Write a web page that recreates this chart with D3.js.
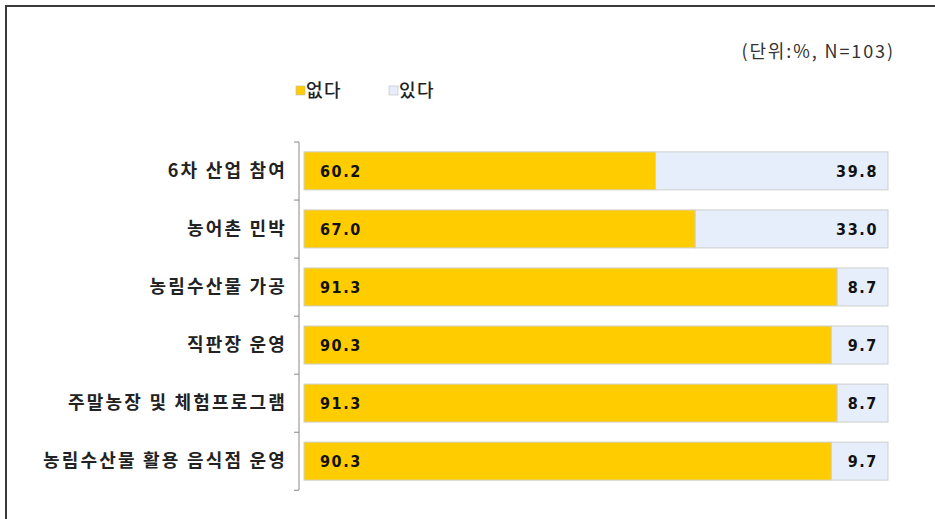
<!DOCTYPE html>
<html>
<head>
<meta charset="utf-8">
<script src="https://cdn.jsdelivr.net/npm/d3@7"></script>
<style>
  body { margin: 0; background: #fff; }
  svg { display: block; }
</style>
</head>
<body>
<div id="chart"></div>
<script>
var svgWidth = 935;
var svgHeight = 519;

// chart data
var categories = ["6차 산업 참여", "농어촌 민박", "농림수산물 가공", "직판장 운영", "주말농장 및 체험프로그램", "농림수산물 활용 음식점 운영"];
var seriesNames = ["없다", "있다"];
var noValues = [60.2, 67.0, 91.3, 90.3, 91.3, 90.3];
var yesValues = [39.8, 33.0, 8.7, 9.7, 8.7, 9.7];
var colors = ["#FFCC00", "#E6EEFB"];

var margin = { top: 142, left: 304, right: 47, bottom: 29 };
var width = svgWidth - margin.left - margin.right;
var height = svgHeight - margin.top - margin.bottom;

var krFont = "'Noto Sans CJK KR', sans-serif";

var svg = d3.select("#chart")
  .append("svg")
  .attr("width", svgWidth)
  .attr("height", svgHeight);

// outer frame (top and left edges)
svg.append("path")
  .attr("d", "M6,519 V6 H935")
  .attr("fill", "none")
  .attr("stroke", "#3a3a3a")
  .attr("stroke-width", 2);

// unit note
svg.append("text")
  .attr("x", 895)
  .attr("y", 58)
  .attr("text-anchor", "end")
  .style("font-family", krFont)
  .style("font-size", "18px")
  .style("letter-spacing", "1.9px")
  .attr("fill", "#333")
  .text("(단위:%, N=103)");

// legend
var legendX = [296, 389];
seriesNames.forEach(function (name, i) {
  svg.append("rect")
    .attr("x", legendX[i])
    .attr("y", 86)
    .attr("width", 9)
    .attr("height", 9)
    .attr("fill", colors[i])
    .attr("stroke", "#bbb")
    .attr("stroke-width", 0.6);
  svg.append("text")
    .attr("x", legendX[i] + 10)
    .attr("y", 97)
    .style("font-family", krFont)
    .style("font-size", "18px")
    .style("font-weight", "500")
    .style("letter-spacing", "1.5px")
    .attr("fill", "#222")
    .text(name);
});

var chartGroup = svg.append("g")
  .attr("transform", `translate(${margin.left}, ${margin.top})`);

var xScale = d3.scaleLinear()
  .domain([0, 100])
  .range([0, width]);

var yScale = d3.scaleBand()
  .domain(categories)
  .range([0, height])
  .paddingInner(0.345)
  .paddingOuter(0.17);

// stacked data
var rows = categories.map(function (c, i) {
  return { cat: c, no: noValues[i], yes: yesValues[i] };
});
var stack = d3.stack().keys(["no", "yes"])(rows);

stack.forEach(function (layer, li) {
  chartGroup.append("g")
    .selectAll("rect")
    .data(layer)
    .enter()
    .append("rect")
    .attr("x", d => xScale(d[0]))
    .attr("y", d => yScale(d.data.cat))
    .attr("width", d => xScale(d[1]) - xScale(d[0]))
    .attr("height", yScale.bandwidth())
    .attr("fill", colors[li])
    .attr("stroke", "#cfcfcf")
    .attr("stroke-width", 1);
});

// value labels
var valueFont = "'DejaVu Sans Condensed', 'DejaVu Sans', sans-serif";
chartGroup.selectAll(".label-no")
  .data(rows)
  .enter()
  .append("text")
  .attr("x", 16)
  .attr("y", d => yScale(d.cat) + yScale.bandwidth() / 2)
  .attr("dy", "0.36em")
  .style("font-family", valueFont)
  .style("font-size", "16px")
  .style("font-weight", "bold")
  .style("letter-spacing", "1.6px")
  .attr("fill", "#111")
  .text(d => d.no.toFixed(1));

chartGroup.selectAll(".label-yes")
  .data(rows)
  .enter()
  .append("text")
  .attr("x", xScale(100) - 10)
  .attr("y", d => yScale(d.cat) + yScale.bandwidth() / 2)
  .attr("dy", "0.36em")
  .attr("text-anchor", "end")
  .style("font-family", valueFont)
  .style("font-size", "16px")
  .style("font-weight", "bold")
  .style("letter-spacing", "1.6px")
  .attr("fill", "#111")
  .text(d => d.yes.toFixed(1));

// category axis
var leftAxis = d3.axisLeft(yScale).tickSize(0).tickPadding(12);
var yAxis = chartGroup.append("g")
  .attr("transform", "translate(-5, 0)")
  .call(leftAxis);
yAxis.select(".domain").attr("stroke", "#888").attr("d", `M0,0V${height}`);
yAxis.selectAll("text")
  .style("font-family", krFont)
  .style("font-size", "18px")
  .style("font-weight", "bold")
  .style("letter-spacing", "2.2px")
  .attr("fill", "#222");

// tick marks at band boundaries
var bounds = d3.range(categories.length + 1).map(i => i * yScale.step());
yAxis.selectAll(".bound")
  .data(bounds)
  .enter()
  .append("line")
  .attr("x1", -5)
  .attr("x2", 0)
  .attr("y1", d => d)
  .attr("y2", d => d)
  .attr("stroke", "#888");
</script>
</body>
</html>
